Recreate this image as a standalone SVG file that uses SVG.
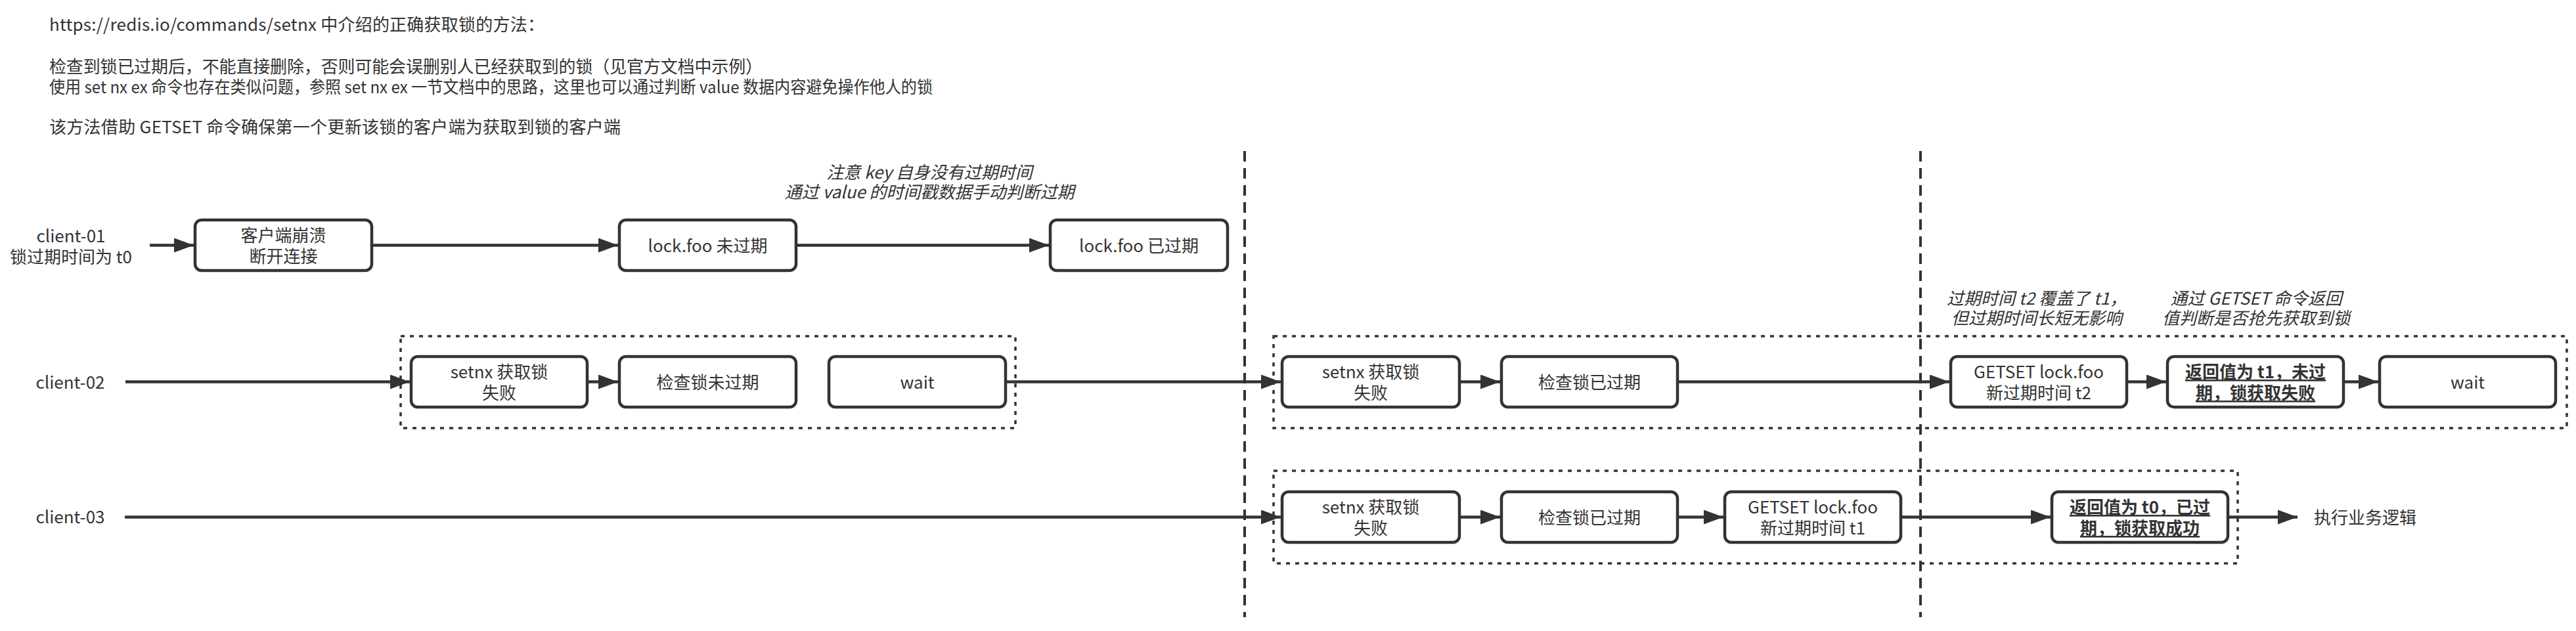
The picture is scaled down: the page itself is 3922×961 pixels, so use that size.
<svg xmlns="http://www.w3.org/2000/svg" width="3922" height="961" viewBox="0 0 3922 961">
<style>
.t{font-family:"Noto Sans CJK SC","Noto Sans",sans-serif;font-size:26px;fill:#333}
.c{text-anchor:middle}
.i{font-style:italic}
.b{font-weight:bold;text-decoration:underline}
.box{fill:#fff;stroke:#333;stroke-width:4.5}
.grp{fill:none;stroke:#333;stroke-width:3.5;stroke-dasharray:6 8}
.lane{stroke:#333;stroke-width:4;stroke-dasharray:16 10;fill:none}
.ln{stroke:#333;stroke-width:4.5;fill:none;marker-end:url(#arr)}
</style>
<defs>
<marker id="arr" markerUnits="userSpaceOnUse" markerWidth="30" markerHeight="22" viewBox="0 0 30 22" refX="30" refY="11" orient="auto"><path d="M0,0 L30,11 L0,22 Z" fill="#333"/></marker>
</defs>
<rect width="3922" height="961" fill="#fff"/>
<g id="header">
<text class="t" x="75" y="47" textLength="754">https://redis.io/commands/setnx 中介绍的正确获取锁的方法：</text>
<text class="t" x="75" y="111" textLength="1086">检查到锁已过期后，不能直接删除，否则可能会误删别人已经获取到的锁（见官方文档中示例）</text>
<text class="t" x="75" y="142" textLength="1345" lengthAdjust="spacingAndGlyphs">使用 set nx ex 命令也存在类似问题，参照 set nx ex 一节文档中的思路，这里也可以通过判断 value 数据内容避免操作他人的锁</text>
<text class="t" x="75" y="203" textLength="870">该方法借助 GETSET  命令确保第一个更新该锁的客户端为获取到锁的客户端</text>
</g>
<g id="lanes">
<line class="lane" x1="1895" y1="230" x2="1895" y2="940"/>
<line class="lane" x1="2924" y1="230" x2="2924" y2="940"/>
</g>
<g id="groups">
<rect id="g1" class="grp" x="610" y="512" width="936" height="140"/>
<rect id="g2" class="grp" x="1939" y="512" width="1969" height="140"/>
<rect id="g3" class="grp" x="1939" y="717" width="1468" height="141"/>
</g>
<g id="labels">
<g id="client-01"><text class="t c" x="108" y="369">client-01</text><text class="t c" x="108" y="401">锁过期时间为 t0</text></g>
<g id="client-02"><text class="t c" x="107" y="592">client-02</text></g>
<g id="client-03"><text class="t c" x="107" y="797">client-03</text></g>
<g id="note1"><text class="t c i" x="1415" y="272">注意 key 自身没有过期时间</text><text class="t c i" x="1415" y="302">通过 value 的时间戳数据手动判断过期</text></g>
<g id="note2"><text class="t c i" x="3101" y="464">过期时间 t2 覆盖了 t1，</text><text class="t c i" x="3101" y="494">但过期时间长短无影响</text></g>
<g id="note3"><text class="t c i" x="3435" y="464">通过 GETSET 命令返回</text><text class="t c i" x="3435" y="494">值判断是否抢先获取到锁</text></g>
<g id="biz"><text class="t" x="3523" y="798">执行业务逻辑</text></g>
</g>
<g id="connectors">
<line class="ln" x1="228" y1="373.5" x2="295" y2="373.5"/>
<line class="ln" x1="568" y1="373.5" x2="941" y2="373.5"/>
<line class="ln" x1="1214" y1="373.5" x2="1597" y2="373.5"/>
<line class="ln" x1="191" y1="581.5" x2="624" y2="581.5"/>
<line class="ln" x1="896" y1="581.5" x2="941" y2="581.5"/>
<line class="ln" x1="1533" y1="581.5" x2="1950" y2="581.5"/>
<line class="ln" x1="2224" y1="581.5" x2="2284" y2="581.5"/>
<line class="ln" x1="2556" y1="581.5" x2="2968" y2="581.5"/>
<line class="ln" x1="3240" y1="581.5" x2="3298" y2="581.5"/>
<line class="ln" x1="3570" y1="581.5" x2="3621" y2="581.5"/>
<line class="ln" x1="190" y1="787.5" x2="1950" y2="787.5"/>
<line class="ln" x1="2224" y1="787.5" x2="2284" y2="787.5"/>
<line class="ln" x1="2556" y1="787.5" x2="2624" y2="787.5"/>
<line class="ln" x1="2896" y1="787.5" x2="3122" y2="787.5"/>
<line class="ln" x1="3394" y1="787.5" x2="3498" y2="787.5"/>
</g>
<g id="n1"><rect class="box" x="297" y="335" width="269" height="77" rx="10"/><text class="t c" x="431.5" y="368">客户端崩溃</text><text class="t c" x="431.5" y="400">断开连接</text></g>
<g id="n2"><rect class="box" x="943" y="335" width="269" height="77" rx="10"/><text class="t c" x="1077.5" y="384">lock.foo 未过期</text></g>
<g id="n3"><rect class="box" x="1599" y="335" width="270" height="77" rx="10"/><text class="t c" x="1734" y="384">lock.foo 已过期</text></g>
<g id="n4"><rect class="box" x="626" y="543" width="268" height="77" rx="10"/><text class="t c" x="760" y="576">setnx 获取锁</text><text class="t c" x="760" y="608">失败</text></g>
<g id="n5"><rect class="box" x="943" y="543" width="269" height="77" rx="10"/><text class="t c" x="1077.5" y="592">检查锁未过期</text></g>
<g id="n6"><rect class="box" x="1262" y="543" width="269" height="77" rx="10"/><text class="t c" x="1396.5" y="592">wait</text></g>
<g id="n7"><rect class="box" x="1952" y="543" width="270" height="77" rx="10"/><text class="t c" x="2087" y="576">setnx 获取锁</text><text class="t c" x="2087" y="608">失败</text></g>
<g id="n8"><rect class="box" x="2286" y="543" width="268" height="77" rx="10"/><text class="t c" x="2420" y="592">检查锁已过期</text></g>
<g id="n9"><rect class="box" x="2970" y="543" width="268" height="77" rx="10"/><text class="t c" x="3104" y="576">GETSET lock.foo</text><text class="t c" x="3104" y="608">新过期时间 t2</text></g>
<g id="n10"><rect class="box" x="3300" y="543" width="268" height="77" rx="10"/><text class="t c b" x="3434" y="576">返回值为 t1，未过</text><text class="t c b" x="3434" y="608">期，锁获取失败</text></g>
<g id="n11"><rect class="box" x="3623" y="543" width="268" height="77" rx="10"/><text class="t c" x="3757" y="592">wait</text></g>
<g id="n12"><rect class="box" x="1952" y="749" width="270" height="77" rx="10"/><text class="t c" x="2087" y="782">setnx 获取锁</text><text class="t c" x="2087" y="814">失败</text></g>
<g id="n13"><rect class="box" x="2286" y="749" width="268" height="77" rx="10"/><text class="t c" x="2420" y="798">检查锁已过期</text></g>
<g id="n14"><rect class="box" x="2626" y="749" width="268" height="77" rx="10"/><text class="t c" x="2760" y="782">GETSET lock.foo</text><text class="t c" x="2760" y="814">新过期时间 t1</text></g>
<g id="n15"><rect class="box" x="3124" y="749" width="268" height="77" rx="10"/><text class="t c b" x="3258" y="782">返回值为 t0，已过</text><text class="t c b" x="3258" y="814">期，锁获取成功</text></g>
</svg>
